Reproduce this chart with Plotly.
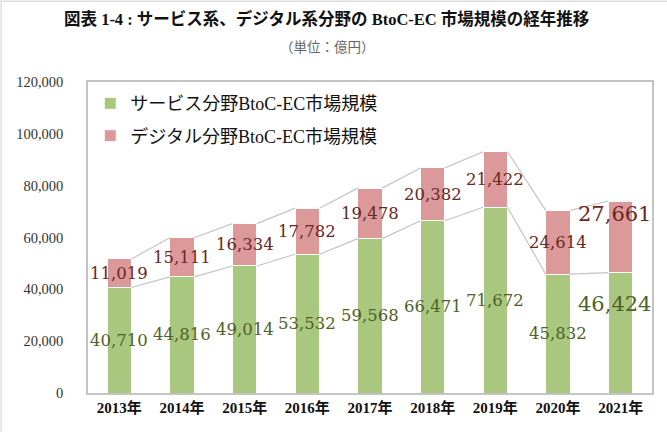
import plotly.graph_objects as go

years = ["2013年", "2014年", "2015年", "2016年", "2017年", "2018年", "2019年", "2020年", "2021年"]
service = [40710, 44816, 49014, 53532, 59568, 66471, 71672, 45832, 46424]
digital = [11019, 15111, 16334, 17782, 19478, 20382, 21422, 24614, 27661]
y_ticks = [0, 20000, 40000, 60000, 80000, 100000, 120000]

GREEN = "#a9c77e"
PINK = "#db9a99"
GREEN_TXT = "#4f6228"
PINK_TXT = "#6b2626"
LINE_GRAY = "#c4c4c4"
SERIF = "Liberation Serif, DejaVu Serif, Noto Sans CJK JP, serif"
WIDE_SERIF = "DejaVu Serif, Liberation Serif, serif"
BAR_W = 0.39

xs = list(range(len(years)))
totals = [s + d for s, d in zip(service, digital)]

fig = go.Figure()
fig.add_trace(go.Bar(x=xs, y=service, name="サービス分野BtoC-EC市場規模",
                     marker=dict(color=GREEN, line=dict(color="white", width=1)),
                     width=BAR_W, legendgroup="a", hoverinfo="skip"))
fig.add_trace(go.Bar(x=xs, y=digital, name="デジタル分野BtoC-EC市場規模",
                     marker=dict(color=PINK, line=dict(color="white", width=1)),
                     width=BAR_W, legendgroup="b", hoverinfo="skip"))

# series connector lines (Excel style)
for tops in (service, totals):
    lx, ly = [], []
    for i in range(len(xs) - 1):
        lx += [xs[i] + BAR_W / 2, xs[i + 1] - BAR_W / 2, None]
        ly += [tops[i], tops[i + 1], None]
    fig.add_trace(go.Scatter(x=lx, y=ly, mode="lines", line=dict(color=LINE_GRAY, width=1.2),
                             showlegend=False, hoverinfo="skip"))

# value labels
last = len(xs) - 1
for i in xs:
    big = i == last
    size = 21 if big else 16.5
    fig.add_annotation(x=xs[i], y=service[i] / 2, text=f"{service[i]:,}", showarrow=False,
                       font=dict(family=WIDE_SERIF, size=size, color=GREEN_TXT),
                       xshift=-6 if big else 0, yshift=29 if big else 0)
    fig.add_annotation(x=xs[i], y=service[i] + digital[i] / 2, text=f"{digital[i]:,}", showarrow=False,
                       font=dict(family=WIDE_SERIF, size=size, color=PINK_TXT),
                       xshift=-6 if big else 0, yshift=23 if big else 0)

# titles
fig.add_annotation(xref="paper", yref="paper", x=0.422, y=1.0, yshift=63, xanchor="center",
                   yanchor="middle",
                   text="<b>図表 1-4 : サービス系、デジタル系分野の BtoC-EC 市場規模の経年推移</b>",
                   showarrow=False, font=dict(family=SERIF, size=16.5, color="#111"))
fig.add_annotation(xref="paper", yref="paper", x=0.425, y=1.0, yshift=35, xanchor="center",
                   yanchor="middle",
                   text="（単位：億円）", showarrow=False,
                   font=dict(family=SERIF, size=13.5, color="#666"))

fig.update_layout(
    width=667, height=432,
    margin=dict(l=88, r=15, t=82, b=39),
    barmode="stack",
    plot_bgcolor="white", paper_bgcolor="white",
    font=dict(family=SERIF, color="#222"),
    legend=dict(x=0.004, y=0.99, xanchor="left", yanchor="top", traceorder="grouped",
                tracegroupgap=6, font=dict(family=SERIF, size=18, color="#111"),
                bgcolor="rgba(0,0,0,0)"),
    xaxis=dict(range=[-0.5, 8.5], tickvals=xs, ticktext=[f"<b>{y}</b>" for y in years],
               showline=True, linecolor=LINE_GRAY, linewidth=1.5, mirror=True,
               showgrid=False, zeroline=False, ticks="", tickfont=dict(size=15, color="#111")),
    yaxis=dict(range=[0, 120000], tickvals=y_ticks, ticktext=[f"{v:,}" for v in y_ticks],
               showline=True, linecolor=LINE_GRAY, linewidth=1.5, mirror=True,
               showgrid=False, zeroline=False, ticks="", ticklabelstandoff=20,
               tickfont=dict(size=14.5, color="#333")),
)
# faint outer frame (left / top)
fig.add_shape(type="line", xref="paper", yref="paper", x0=-0.154, x1=-0.154, y0=-0.13, y1=1.27,
              line=dict(color="#dddddd", width=1.5))
fig.add_shape(type="line", xref="paper", yref="paper", x0=-0.154, x1=1.03, y0=1.26, y1=1.26,
              line=dict(color="#dddddd", width=1.5))

fig.write_html("out.html")
